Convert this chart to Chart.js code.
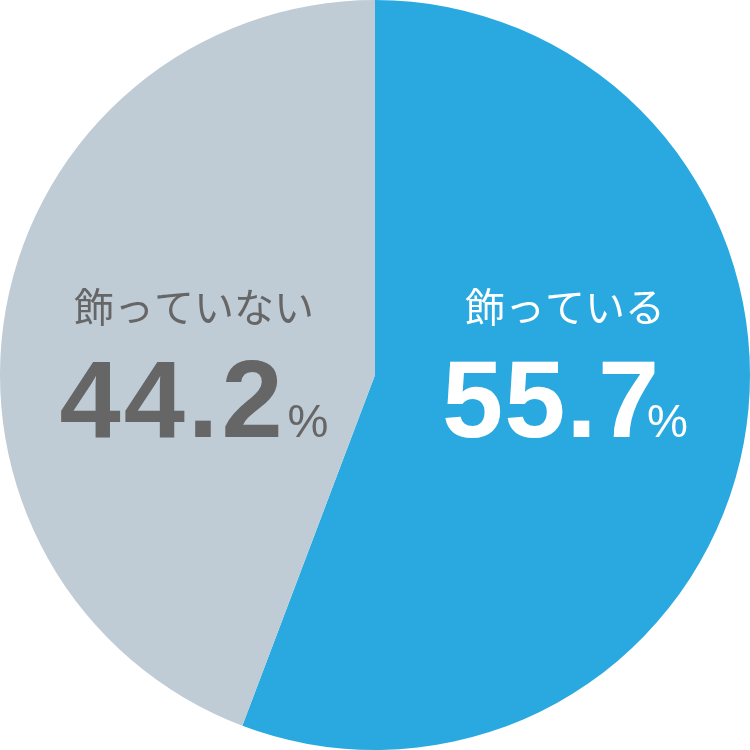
<!DOCTYPE html>
<html>
<head>
<meta charset="utf-8">
<script src="https://cdn.jsdelivr.net/npm/chart.js@4.4.1/dist/chart.umd.min.js"></script>
<style>
  html, body { margin: 0; padding: 0; background: #fff; }
  #wrap { width: 750px; height: 750px; }
</style>
</head>
<body>
<div id="wrap"><canvas id="pieChart" width="750" height="750"></canvas></div>
<script>
  // data
  const labels = ["飾っている", "飾っていない"];
  const values = [55.7, 44.2];
  const colors = ["#29a9e0", "#bfcbd5"];
  const textColors = ["#ffffff", "#666666"];

  // label block placement relative to the pie centre (number baseline),
  // plus per-label spacing so "7%" tucks in like the original
  const labelOffsets = [
    { dx: 190, dy: 62, spacing: 1, gap: -13 },
    { dx: -181, dy: 62, spacing: 3, gap: 2 }
  ];

  const pieLabels = {
    id: "pieLabels",
    afterDatasetsDraw(chart) {
      const ctx = chart.ctx;
      const arc = chart.getDatasetMeta(0).data[0];
      const cx = arc.x, cy = arc.y;
      ctx.save();
      labels.forEach(function (name, i) {
        const o = labelOffsets[i];
        const x = cx + o.dx;
        const base = cy + o.dy;
        ctx.fillStyle = textColors[i];

        // category name
        ctx.letterSpacing = "0px";
        ctx.font = '40px "Noto Sans CJK JP"';
        ctx.textAlign = "center";
        ctx.textBaseline = "alphabetic";
        ctx.fillText(name, x, base - 115);

        // value + small percent sign
        const num = values[i].toFixed(1);
        ctx.letterSpacing = o.spacing + "px";
        ctx.font = 'bold 110px "Liberation Sans"';
        const wNum = ctx.measureText(num).width;
        ctx.letterSpacing = "0px";
        ctx.font = '46px "Liberation Sans"';
        const wPct = ctx.measureText("%").width;
        const left = x - (wNum + o.gap + wPct) / 2;
        ctx.textAlign = "left";
        ctx.letterSpacing = o.spacing + "px";
        ctx.font = 'bold 110px "Liberation Sans"';
        ctx.fillText(num, left, base);
        ctx.letterSpacing = "0px";
        ctx.font = '46px "Liberation Sans"';
        ctx.fillText("%", left + wNum + o.gap, base);
      });
      ctx.restore();
    }
  };

  const ctx = document.getElementById("pieChart").getContext("2d");
  new Chart(ctx, {
    type: "pie",
    data: {
      labels: labels,
      datasets: [
        {
          data: values,
          backgroundColor: colors,
          borderWidth: 0
        }
      ]
    },
    options: {
      responsive: false,
      animation: false,
      devicePixelRatio: 1,
      layout: { padding: 0 },
      plugins: {
        legend: { display: false },
        tooltip: { enabled: false }
      }
    },
    plugins: [pieLabels]
  });
</script>
</body>
</html>
